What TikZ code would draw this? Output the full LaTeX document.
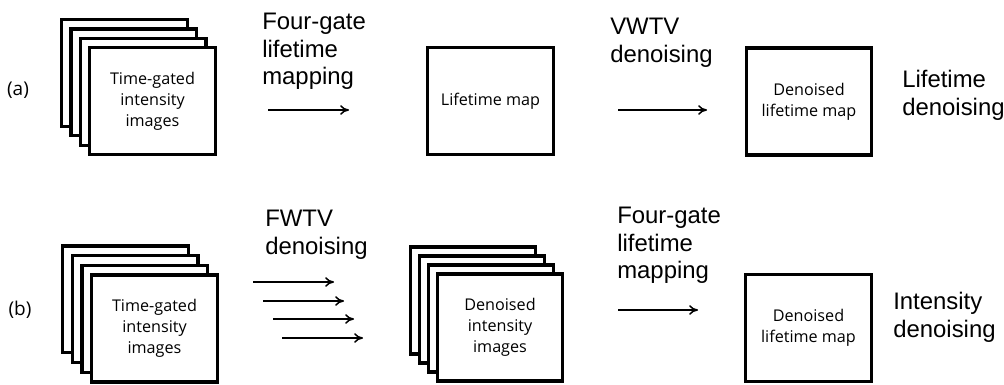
\documentclass[tikz,border=0pt]{standalone}
\usepackage{fontspec}
\setmainfont{Liberation Sans}
\newfontfamily\boxfont{Open Sans}
\usetikzlibrary{arrows.meta}

\begin{document}
\begin{tikzpicture}[x=0.025cm,y=-0.025cm,
    sheet/.style={draw,line width=2.3pt,fill=white,minimum width=3.14cm,
      minimum height=2.67cm,inner sep=0pt,align=center,
      font={\boxfont\fontsize{11.5}{15}\selectfont}},
    steplabel/.style={anchor=north west,inner sep=0pt,align=left,
      font={\fontsize{17}{19.6}\selectfont}},
    tag/.style={font={\boxfont\fontsize{13.5}{15}\selectfont}},
    arr/.style={-{To[length=2.2mm,width=2.4mm]},line width=1.1pt}
  ]
  \useasboundingbox (0,0) rectangle (1004,384);

  % (a) lifetime denoising
  \node[tag] (taga) at (18,90) {(a)};
  \foreach \k in {3,2,1}
    \node[sheet] (tga\k) at ({152.5-9.3*\k},{101-9.3*\k}) {};
  \node[sheet] (tga) at (152.5,101) {Time-gated\\intensity\\images};
  \node[steplabel] (fga) at (262,13) {Four-gate\\lifetime\\mapping};
  \coordinate (fga-s) at (268,110);
  \coordinate (fga-e) at (349,110);
  \draw[arr] (fga-s) -- (fga-e);
  \node[sheet] (lmap) at (490.5,101) {Lifetime map};
  \node[steplabel] (vwtv) at (610,18) {VWTV\\denoising};
  \coordinate (vwtv-s) at (618,110);
  \coordinate (vwtv-e) at (707,110);
  \draw[arr] (vwtv-s) -- (vwtv-e);
  \node[sheet] (dlmapa) at (809,101.5) {Denoised\\lifetime map};
  \node[steplabel] (lden) at (902,70) {Lifetime\\denoising};

  % (b) intensity denoising
  \node[tag] (tagb) at (20,310) {(b)};
  \foreach \k in {3,2,1}
    \node[sheet] (tgb\k) at ({154.5-9.7*\k},{328.5-9.7*\k}) {};
  \node[sheet] (tgb) at (154.5,328.5) {Time-gated\\intensity\\images};
  \node[steplabel] (fwtv) at (265,210) {FWTV\\denoising};
  \foreach \y/\x [count=\i] in {282/253,301/263,319/273,338/282} {
    \coordinate (fwtv\i-s) at (\x,\y);
    \coordinate (fwtv\i-e) at (\x+81,\y);
    \draw[arr] (fwtv\i-s) -- (fwtv\i-e);
  }
  \foreach \k in {3,2,1}
    \node[sheet] (dib\k) at ({500-9*\k},{327.5-9*\k}) {};
  \node[sheet] (dib) at (500,327.5) {Denoised\\intensity\\images};
  \node[steplabel] (fgb) at (617,207) {Four-gate\\lifetime\\mapping};
  \coordinate (fgb-s) at (618,310);
  \coordinate (fgb-e) at (698,310);
  \draw[arr] (fgb-s) -- (fgb-e);
  \node[sheet] (dlmapb) at (808.5,328) {Denoised\\lifetime map};
  \node[steplabel] (iden) at (893,292) {Intensity\\denoising};
\end{tikzpicture}
\end{document}
